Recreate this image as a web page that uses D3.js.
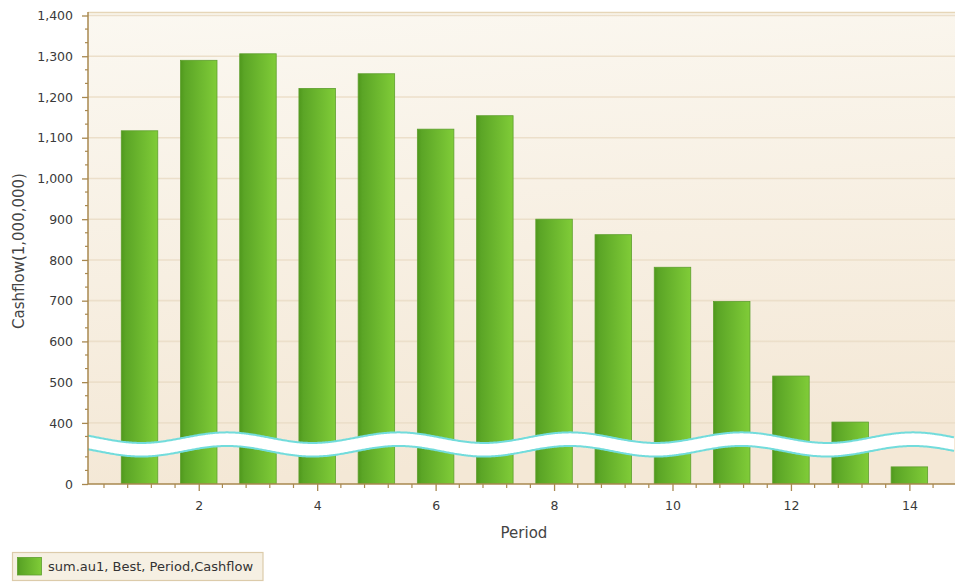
<!DOCTYPE html>
<html>
<head>
<meta charset="utf-8">
<script src="https://cdn.jsdelivr.net/npm/d3@7"></script>
<style>
  html, body { margin: 0; padding: 0; background: #ffffff; }
  svg { display: block; font-family: "DejaVu Sans", Verdana, sans-serif; }
</style>
</head>
<body>
<svg id="chart" width="955" height="586"></svg>
<script>
// ---- data ----
const periods = [1, 2, 3, 4, 5, 6, 7, 8, 9, 10, 11, 12, 13, 14];
const cashflow = [1117, 1290, 1306, 1221, 1257, 1121, 1154, 900, 862, 782, 698, 515, 402, 42];
const yTickValues = [0, 400, 500, 600, 700, 800, 900, 1000, 1100, 1200, 1300, 1400];
const xTickValues = [2, 4, 6, 8, 10, 12, 14];
const seriesName = "sum.au1, Best, Period,Cashflow";
const yTitle = "Cashflow(1,000,000)";
const xTitle = "Period";
const breakLow = 100, breakHigh = 350, yMax = 1400;

// ---- layout ----
const W = 955, H = 586;
const plot = { left: 88, right: 955, top: 12, bottom: 484 };
const yTopPx = 15.5;

const svg = d3.select("#chart");
const defs = svg.append("defs");

const bg = defs.append("linearGradient").attr("id", "bg").attr("x1", 0).attr("y1", 0).attr("x2", 0.15).attr("y2", 1);
bg.append("stop").attr("offset", "0%").attr("stop-color", "#fbf8f1");
bg.append("stop").attr("offset", "100%").attr("stop-color", "#f4e8d6");

const bar = defs.append("linearGradient").attr("id", "barg").attr("x1", 0).attr("y1", 0).attr("x2", 1).attr("y2", 0);
bar.append("stop").attr("offset", "0%").attr("stop-color", "#4f981c");
bar.append("stop").attr("offset", "12%").attr("stop-color", "#5ba526");
bar.append("stop").attr("offset", "100%").attr("stop-color", "#80cc38");

defs.append("clipPath").attr("id", "plotclip").append("rect")
  .attr("x", plot.left).attr("y", plot.top)
  .attr("width", plot.right - plot.left).attr("height", plot.bottom - plot.top);

// scales
const pxPer = (plot.bottom - yTopPx) / (yMax - (breakHigh - breakLow));
const yBreakPx = plot.bottom - breakLow * pxPer;
const y = d3.scaleLinear()
  .domain([0, breakLow, breakHigh, yMax])
  .range([plot.bottom, yBreakPx, yBreakPx, yTopPx]);
const x = d3.scaleLinear().domain([0, 15]).range([80.3, 80.3 + 15 * 59.22]);
const barW = 36.5;

// background
svg.append("rect").attr("x", plot.left).attr("y", plot.top)
  .attr("width", plot.right - plot.left).attr("height", plot.bottom - plot.top)
  .attr("fill", "url(#bg)");
svg.append("line").attr("x1", plot.left).attr("x2", plot.right)
  .attr("y1", plot.top + 0.5).attr("y2", plot.top + 0.5)
  .attr("stroke", "#e6d6b8").attr("stroke-width", 1.5);

// gridlines
svg.append("g").selectAll("line").data(yTickValues.filter(d => d > 0)).join("line")
  .attr("x1", plot.left).attr("x2", plot.right)
  .attr("y1", d => y(d)).attr("y2", d => y(d))
  .attr("stroke", "#ecdfca").attr("stroke-width", 1.6);

// bars
const gBars = svg.append("g").attr("clip-path", "url(#plotclip)");
gBars.selectAll("rect").data(periods.map((p, i) => ({ p, v: cashflow[i] }))).join("rect")
  .attr("x", d => x(d.p) - barW / 2)
  .attr("width", barW)
  .attr("y", d => y(d.v))
  .attr("height", d => y(0) - y(d.v))
  .attr("fill", "url(#barg)")
  .attr("stroke", "#5e9f2e").attr("stroke-width", 0.8);

// scale break wave
const wavePeriod = 171.5, wavePhase = 227, waveAmp = 5.3, halfBand = 6.8;
const waveMid = yBreakPx + 1.2;
const xs = d3.range(plot.left, plot.right + 1, 2);
const centre = xv => waveMid - waveAmp * Math.cos(2 * Math.PI * (xv - wavePhase) / wavePeriod);
const upper = xs.map(xv => [xv, centre(xv) - halfBand]);
const lower = xs.map(xv => [xv, centre(xv) + halfBand]).reverse();
const line = d3.line().curve(d3.curveBasis);
svg.append("path").attr("d", d3.line()(upper.concat(lower)) + "Z")
  .attr("fill", "#ffffff").attr("stroke", "none");
svg.append("path").attr("d", line(upper)).attr("fill", "none").attr("stroke", "#72dcdc").attr("stroke-width", 2);
svg.append("path").attr("d", line(lower.slice().reverse())).attr("fill", "none").attr("stroke", "#72dcdc").attr("stroke-width", 2);

// axes
const axisColor = "#a8884f";
const textColor = "#3a3a3a";

// y axis
const yAxis = d3.axisLeft(y).tickValues(yTickValues).tickSize(6).tickSizeOuter(0)
  .tickFormat(d3.format(","));
const gy = svg.append("g").attr("transform", `translate(${plot.left},0)`).call(yAxis);
gy.select(".domain").remove();
gy.selectAll(".tick line").attr("stroke", axisColor).attr("stroke-width", 1.3);
gy.selectAll(".tick text").attr("fill", textColor).attr("font-size", "12.5px")
  .attr("font-family", "DejaVu Sans").attr("x", -15).attr("dy", "0.34em");
// y minor ticks
const yMinor = [];
for (let v = 100 / 3; v < breakLow - 1; v += 100 / 3) yMinor.push(v);
for (let k = 1; k < 3; k++) yMinor.push(300 + k * 100 / 3 + 0); // placeholder removed below
const yMinorVals = yMinor.filter(v => v < breakLow);
for (let base = 300; base < yMax; base += 100) {
  for (let k = 1; k < 3; k++) {
    const v = base + k * 100 / 3;
    if (v > breakHigh && v < yMax) yMinorVals.push(v);
  }
}
svg.append("g").selectAll("line").data(yMinorVals).join("line")
  .attr("x1", plot.left - 3).attr("x2", plot.left)
  .attr("y1", d => y(d)).attr("y2", d => y(d))
  .attr("stroke", axisColor).attr("stroke-width", 1.2);
svg.append("line").attr("x1", plot.left).attr("x2", plot.left)
  .attr("y1", plot.top).attr("y2", plot.bottom)
  .attr("stroke", axisColor).attr("stroke-width", 1.5);

// x axis
const xAxis = d3.axisBottom(x).tickValues(xTickValues).tickSize(7).tickSizeOuter(0);
const gx = svg.append("g").attr("transform", `translate(0,${plot.bottom})`).call(xAxis);
gx.select(".domain").remove();
gx.selectAll(".tick line").attr("stroke", axisColor).attr("stroke-width", 1.3);
gx.selectAll(".tick text").attr("fill", textColor).attr("font-size", "12.5px")
  .attr("font-family", "DejaVu Sans").attr("y", 17).attr("dy", "0.71em");
const xMinorVals = d3.range(1, 38).map(k => k * 0.4).filter(v => Math.abs(v / 2 - Math.round(v / 2)) > 0.01);
svg.append("g").selectAll("line").data(xMinorVals.filter(v => x(v) < plot.right)).join("line")
  .attr("x1", d => x(d)).attr("x2", d => x(d))
  .attr("y1", plot.bottom).attr("y2", plot.bottom + 4)
  .attr("stroke", axisColor).attr("stroke-width", 1.2);
svg.append("line").attr("x1", plot.left).attr("x2", plot.right)
  .attr("y1", plot.bottom).attr("y2", plot.bottom)
  .attr("stroke", axisColor).attr("stroke-width", 1.5);

// axis titles
svg.append("text").attr("x", 524).attr("y", 537.5).attr("text-anchor", "middle")
  .attr("font-size", "15px").attr("fill", "#444").text(xTitle);
svg.append("text").attr("transform", "translate(23.5,251) rotate(-90)").attr("text-anchor", "middle")
  .attr("font-size", "15px").attr("fill", "#444").text(yTitle);

// legend
const lg = svg.append("g");
lg.append("rect").attr("x", 12.5).attr("y", 552.5).attr("width", 250.5).attr("height", 28)
  .attr("fill", "#f6f0e3").attr("stroke", "#dccbaa").attr("stroke-width", 1.2);
lg.append("rect").attr("x", 17.5).attr("y", 557.5).attr("width", 24).attr("height", 17.5)
  .attr("fill", "url(#barg)").attr("stroke", "#5e9f2e").attr("stroke-width", 0.8);
lg.append("text").attr("x", 48).attr("y", 571).attr("font-size", "13px").attr("fill", "#333").text(seriesName);
</script>
</body>
</html>
